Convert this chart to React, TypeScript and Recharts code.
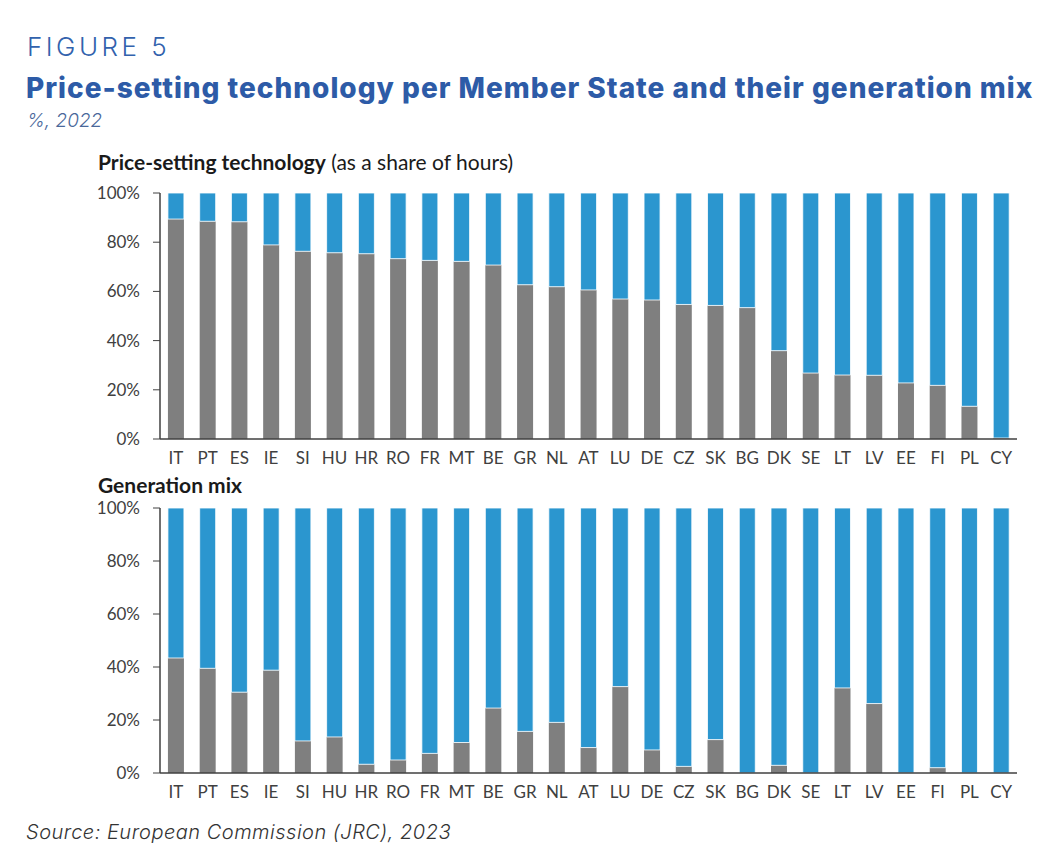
import React from 'react';
import { Bar, BarChart, XAxis, YAxis } from 'recharts';

const countries = [
  'IT', 'PT', 'ES', 'IE', 'SI', 'HU', 'HR', 'RO', 'FR', 'MT', 'BE', 'GR', 'NL', 'AT',
  'LU', 'DE', 'CZ', 'SK', 'BG', 'DK', 'SE', 'LT', 'LV', 'EE', 'FI', 'PL', 'CY',
];

// grey part = fossil share, blue part = the rest (both in %)
const priceSettingFossil = [
  89.4, 88.5, 88.3, 78.9, 76.3, 75.7, 75.3, 73.3, 72.6, 72.2, 70.7, 62.7, 61.9, 60.6,
  56.9, 56.5, 54.7, 54.3, 53.4, 35.9, 26.8, 26.0, 25.9, 22.8, 21.8, 13.3, 0.4,
];

const generationFossil = [
  43.4, 39.5, 30.5, 38.8, 12.1, 13.6, 3.3, 4.9, 7.4, 11.5, 24.5, 15.7, 19.1, 9.6,
  32.6, 8.7, 2.5, 12.6, 0, 2.9, 0, 32.1, 26.2, 0, 2.0, 0, 0,
];

const yTicks = [0, 20, 40, 60, 80, 100];

const GREY = '#7f7f7f';
const BLUE = '#2b96cf';
const AXIS = '#404040';
const CHART_FONT = 'Lato, "Open Sans", sans-serif';
const HEAD_FONT = 'Inter, "Noto Sans", sans-serif';

const priceData = countries.map((c, i) => ({
  country: c,
  fossil: priceSettingFossil[i],
  other: 100 - priceSettingFossil[i],
}));

const mixData = countries.map((c, i) => ({
  country: c,
  fossil: generationFossil[i],
  other: 100 - generationFossil[i],
}));

function StackChart({ data, height }: { data: any[]; height: number }) {
  return (
    <BarChart
      width={1040}
      height={height}
      data={data}
      margin={{ top: 13, right: 23, left: 100, bottom: 1 }}
      barCategoryGap="25%"
    >
      <XAxis
        dataKey="country"
        interval={0}
        tickLine={false}
        tickMargin={7}
        height={30}
        axisLine={{ stroke: AXIS, strokeWidth: 1.5 }}
        tick={{ fill: AXIS, fontSize: 17, fontFamily: CHART_FONT }}
      />
      <YAxis
        domain={[0, 100]}
        ticks={yTicks}
        width={60}
        tickSize={7}
        tickMargin={13}
        tickFormatter={(v) => `${v}%`}
        axisLine={{ stroke: AXIS, strokeWidth: 1.5 }}
        tickLine={{ stroke: AXIS }}
        tick={{ fill: AXIS, fontSize: 17, fontFamily: CHART_FONT }}
      />
      <Bar dataKey="fossil" stackId="a" fill={GREY} isAnimationActive={false} />
      <Bar
        dataKey="other"
        stackId="a"
        fill={BLUE}
        stroke="#ffffff"
        strokeWidth={0.8}
        isAnimationActive={false}
      />
    </BarChart>
  );
}

export default function App() {
  const abs = (top: number): React.CSSProperties => ({ position: 'absolute', left: 0, top });
  return (
    <div
      style={{
        position: 'absolute',
        left: 0,
        top: 0,
        width: 1040,
        height: 856,
        background: '#ffffff',
        overflow: 'hidden',
      }}
    >
      <div
        style={{
          position: 'absolute',
          left: 27,
          top: 34,
          fontFamily: HEAD_FONT,
          fontWeight: 300,
          fontSize: 26,
          lineHeight: 1,
          letterSpacing: 3.5,
          color: '#3262ad',
        }}
      >
        FIGURE 5
      </div>
      <div
        style={{
          position: 'absolute',
          left: 26,
          top: 74,
          fontFamily: HEAD_FONT,
          fontWeight: 800,
          fontSize: 28,
          lineHeight: 1,
          letterSpacing: 1,
          whiteSpace: 'nowrap',
          color: '#2d5ba7',
        }}
      >
        Price-setting technology per Member State and their generation mix
      </div>
      <div
        style={{
          position: 'absolute',
          left: 27,
          top: 111,
          fontFamily: HEAD_FONT,
          fontWeight: 300,
          fontStyle: 'italic',
          fontSize: 19,
          lineHeight: 1,
          color: '#4a689a',
        }}
      >
        %, 2022
      </div>

      <div
        style={{
          position: 'absolute',
          left: 98,
          top: 151,
          fontFamily: CHART_FONT,
          fontSize: 21,
          lineHeight: 1,
          color: '#1a1a1a',
          whiteSpace: 'nowrap',
        }}
      >
        <span style={{ fontWeight: 700 }}>Price-setting technology</span> (as a share of hours)
      </div>
      <div style={abs(180)}>
        <StackChart data={priceData} height={290} />
      </div>

      <div
        style={{
          position: 'absolute',
          left: 98,
          top: 474,
          fontFamily: CHART_FONT,
          fontSize: 21,
          fontWeight: 700,
          lineHeight: 1,
          color: '#1a1a1a',
        }}
      >
        Generation mix
      </div>
      <div style={abs(495)}>
        <StackChart data={mixData} height={309} />
      </div>

      <div
        style={{
          position: 'absolute',
          left: 26,
          top: 822,
          fontFamily: HEAD_FONT,
          fontWeight: 300,
          fontStyle: 'italic',
          fontSize: 20,
          lineHeight: 1,
          letterSpacing: 0.5,
          color: '#333333',
        }}
      >
        Source: European Commission (JRC), 2023
      </div>
    </div>
  );
}
